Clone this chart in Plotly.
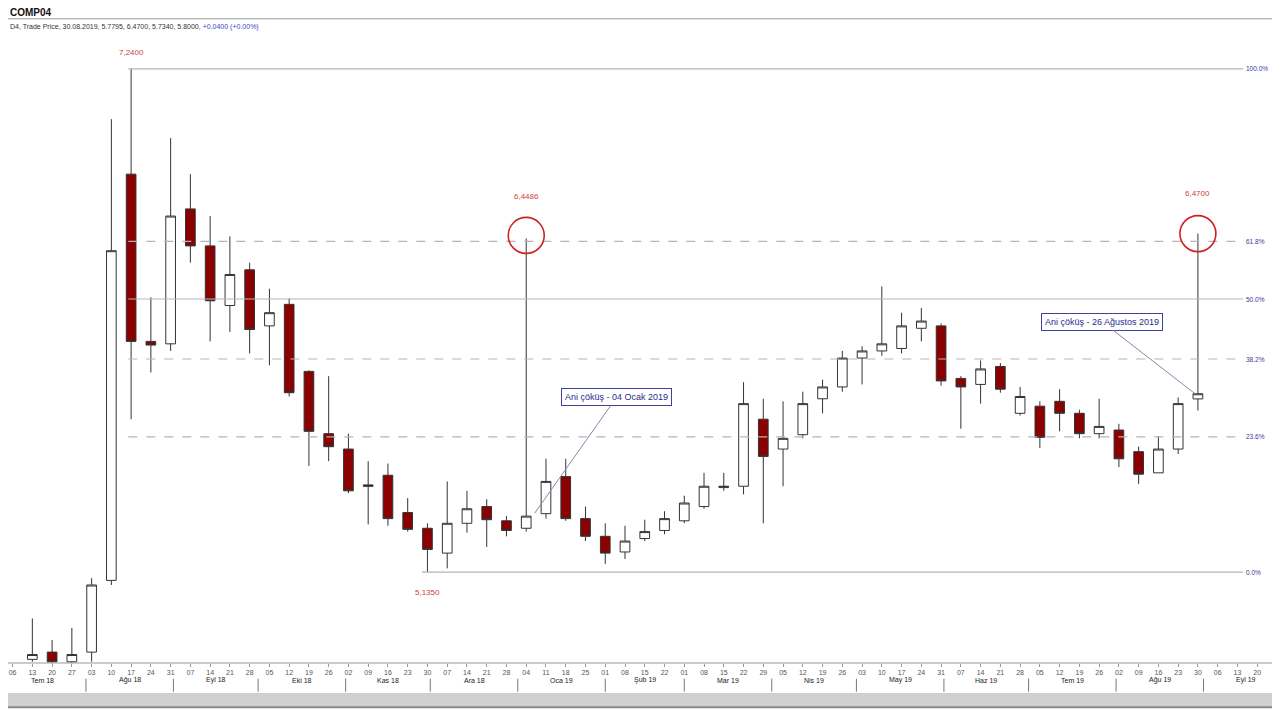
import math
import pandas as pd
import plotly.graph_objects as go

# weekly candles (Friday dates) - price axis is logarithmic
dates = pd.date_range("2018-07-13", periods=60, freq="7D")
opens = [4.838, 4.862, 4.83, 4.862, 5.106, 6.738, 6.011, 6.001, 6.58, 6.416, 6.16, 6.312, 6.075, 6.165, 5.889,
         5.644, 5.585, 5.45, 5.486, 5.348, 5.291, 5.202, 5.309, 5.37, 5.318, 5.291, 5.344, 5.481, 5.326, 5.262,
         5.206, 5.254, 5.283, 5.318, 5.37, 5.44, 5.445, 5.70, 5.585, 5.64, 5.78, 5.827, 5.943, 5.972, 5.982,
         6.065, 6.075, 5.861, 5.837, 5.909, 5.723, 5.751, 5.77, 5.723, 5.644, 5.658, 5.575, 5.495, 5.585, 5.7795]
highs = [4.975, 4.902, 4.943, 5.114, 6.996, 7.24, 6.195, 6.906, 6.738, 6.548, 6.458, 6.343, 6.231, 6.19, 5.894,
         5.87, 5.644, 5.539, 5.53, 5.401, 5.309, 5.463, 5.428, 5.397, 5.335, 6.4486, 5.548, 5.548, 5.37, 5.309,
         5.30, 5.322, 5.353, 5.41, 5.495, 5.495, 5.846, 5.78, 5.77, 5.808, 5.856, 5.972, 5.991, 6.241, 6.13,
         6.15, 6.085, 5.87, 5.933, 5.923, 5.827, 5.77, 5.818, 5.737, 5.78, 5.682, 5.594, 5.635, 5.785, 6.47]
lows = [4.83, 4.82, 4.82, 4.83, 5.09, 5.70, 5.885, 5.972, 6.343, 6.011, 6.05, 5.962, 5.914, 5.789, 5.521,
        5.539, 5.419, 5.305, 5.30, 5.279, 5.135, 5.148, 5.275, 5.224, 5.262, 5.279, 5.326, 5.318, 5.245, 5.164,
        5.181, 5.245, 5.27, 5.309, 5.362, 5.428, 5.415, 5.309, 5.445, 5.626, 5.723, 5.808, 5.837, 5.952, 5.962,
        6.011, 5.832, 5.663, 5.761, 5.804, 5.714, 5.589, 5.653, 5.626, 5.626, 5.517, 5.454, 5.495, 5.566, 5.734]
closes = [4.854, 4.83, 4.854, 5.09, 6.395, 6.011, 5.996, 6.548, 6.416, 6.18, 6.292, 6.06, 6.13, 5.804, 5.653,
          5.594, 5.428, 5.445, 5.326, 5.287, 5.215, 5.309, 5.362, 5.322, 5.283, 5.335, 5.463, 5.326, 5.262, 5.202,
          5.245, 5.279, 5.326, 5.383, 5.445, 5.445, 5.761, 5.557, 5.626, 5.761, 5.827, 5.943, 5.972, 6.001, 6.075,
          6.095, 5.851, 5.827, 5.899, 5.818, 5.789, 5.63, 5.723, 5.644, 5.672, 5.548, 5.49, 5.585, 5.761, 5.80]

fib_low, fib_high = 5.135, 7.24
fib_pcts = [0.0, 23.6, 38.2, 50.0, 61.8, 100.0]
fib_labels = ["0.0%", "23.6%", "38.2%", "50.0%", "61.8%", "100.0%"]
fib_dashed = [False, True, True, False, True, False]

tick_dates = pd.date_range("2018-07-06", "2019-09-20", freq="7D")
month_starts = pd.date_range("2018-07-01", "2019-10-01", freq="MS")
month_names = ["Tem 18", "Ağu 18", "Eyl 18", "Eki 18", "Kas 18", "Ara 18", "Oca 19", "Şub 19",
               "Mar 19", "Nis 19", "May 19", "Haz 19", "Tem 19", "Ağu 19", "Eyl 19"]

x0 = pd.Timestamp("2018-07-04 09:00")
x1 = pd.Timestamp("2019-09-21 00:00")
line_end = pd.Timestamp("2019-09-15")
lg = math.log10

fig = go.Figure()
annotations = []
shapes = []

for pct, lab, dashed in zip(fib_pcts, fib_labels, fib_dashed):
    lvl = fib_low + (fib_high - fib_low) * pct / 100
    start = pd.Timestamp("2018-08-16") if pct > 0 else pd.Timestamp("2018-11-28")
    fig.add_trace(go.Scatter(x=[start, line_end], y=[lvl, lvl], mode="lines", showlegend=False,
                             hoverinfo="skip",
                             line=dict(color="#b5b5b5", width=1.2, dash="dash" if dashed else "solid")))
    annotations.append(dict(x=line_end, xref="x", y=lg(lvl), yref="y", text=lab, showarrow=False,
                            xanchor="left", xshift=1, font=dict(size=6.5, color="#3a3a9a")))

fig.add_trace(go.Candlestick(
    x=dates, open=opens, high=highs, low=lows, close=closes,
    increasing=dict(fillcolor="white", line=dict(color="#333", width=1)),
    decreasing=dict(fillcolor="#8b0000", line=dict(color="#333", width=1)),
    whiskerwidth=0, showlegend=False, hoverinfo="skip"))

# red circles around the spikes
fig.add_trace(go.Scatter(x=[pd.Timestamp("2019-01-04"), pd.Timestamp("2019-08-30")], y=[6.462, 6.47],
                         mode="markers", showlegend=False, hoverinfo="skip",
                         marker=dict(symbol="circle-open", size=36, color="#d02020", line=dict(width=1.6))))

# price labels
for d, p, yoff in [("2018-08-17", 7.24, 16), ("2019-01-04", 6.4486, 42), ("2019-08-30", 6.47, 40)]:
    annotations.append(dict(x=d, y=lg(p), text=f"{p:.4f}".replace(".", ","), showarrow=False, yshift=yoff,
                            font=dict(size=8, color="#d04040")))
annotations.append(dict(x="2018-11-30", y=lg(5.135), text="5,1350", showarrow=False, yshift=-20,
                        font=dict(size=8, color="#d04040")))

# callout boxes
for txt, d, p, ax, ay in [("Ani çöküş - 04 Ocak 2019", "2019-01-07", 5.346, 82, -116),
                          ("Ani çöküş - 26 Ağustos 2019", "2019-08-29", 5.80, -93, -72)]:
    annotations.append(dict(x=d, y=lg(p), text=txt, showarrow=True, arrowhead=0, arrowcolor="#8888aa",
                            arrowwidth=1, ax=ax, ay=ay, bordercolor="#4040a0", borderwidth=1,
                            bgcolor="white", borderpad=3, font=dict(size=9, color="#2a2a90")))

# month row
for i, name in enumerate(month_names):
    s = month_starts[i]
    e = month_starts[i + 1] if i + 1 < len(month_starts) else s + pd.Timedelta(days=30)
    mid = s + (e - s) / 2
    annotations.append(dict(x=mid, xref="x", y=-0.035, yref="paper", text=name, showarrow=False,
                            font=dict(size=7, color="#222")))
for s in month_starts:
    shapes.append(dict(type="line", xref="x", yref="paper", x0=s, x1=s, y0=-0.024, y1=-0.044,
                       line=dict(color="#777", width=1)))
shapes.append(dict(type="rect", xref="paper", yref="paper", x0=0, x1=1.03, y0=-0.046, y1=-0.068,
                   fillcolor="#cfcfcf", line=dict(width=0)))
shapes.append(dict(type="line", xref="paper", yref="paper", x0=0, x1=1.03, y0=-0.068, y1=-0.068,
                   line=dict(color="#888", width=2)))
shapes.append(dict(type="line", xref="paper", yref="paper", x0=0, x1=1.03, y0=0.988, y1=0.988,
                   line=dict(color="#999", width=1)))
shapes.append(dict(type="line", xref="paper", yref="paper", x0=0, x1=1.03, y0=0, y1=0,
                   line=dict(color="#999", width=1)))

annotations.append(dict(x=0.0, xref="paper", y=0.988, yref="paper", yshift=-1, xanchor="left",
                        yanchor="bottom", showarrow=False, text="<b>COMP04</b>",
                        font=dict(size=10, color="#111")))
annotations.append(dict(x=0.0, xref="paper", y=0.984, yref="paper", xanchor="left", yanchor="top",
                        showarrow=False,
                        text="D4, Trade Price, 30.08.2019, 5.7795, 6.4700, 5.7340, 5.8000, "
                             "<span style='color:#4444cc'>+0.0400 (+0.00%)</span>",
                        font=dict(size=7, color="#333")))

fig.update_layout(
    width=1280, height=720, margin=dict(l=0, r=28, t=3, b=65, autoexpand=False),
    paper_bgcolor="white", plot_bgcolor="white",
    font=dict(family="Liberation Sans"),
    xaxis=dict(range=[x0, x1], rangeslider=dict(visible=False), showgrid=False,
               tickvals=tick_dates, ticktext=[d.strftime("%d") for d in tick_dates],
               tickfont=dict(size=7, color="#555"), ticks="outside", ticklen=3, tickcolor="#999"),
    yaxis=dict(type="log", range=[lg(4.826), lg(7.532)], visible=False, showgrid=False),
    shapes=shapes, annotations=annotations)

fig.write_html("out.html")
